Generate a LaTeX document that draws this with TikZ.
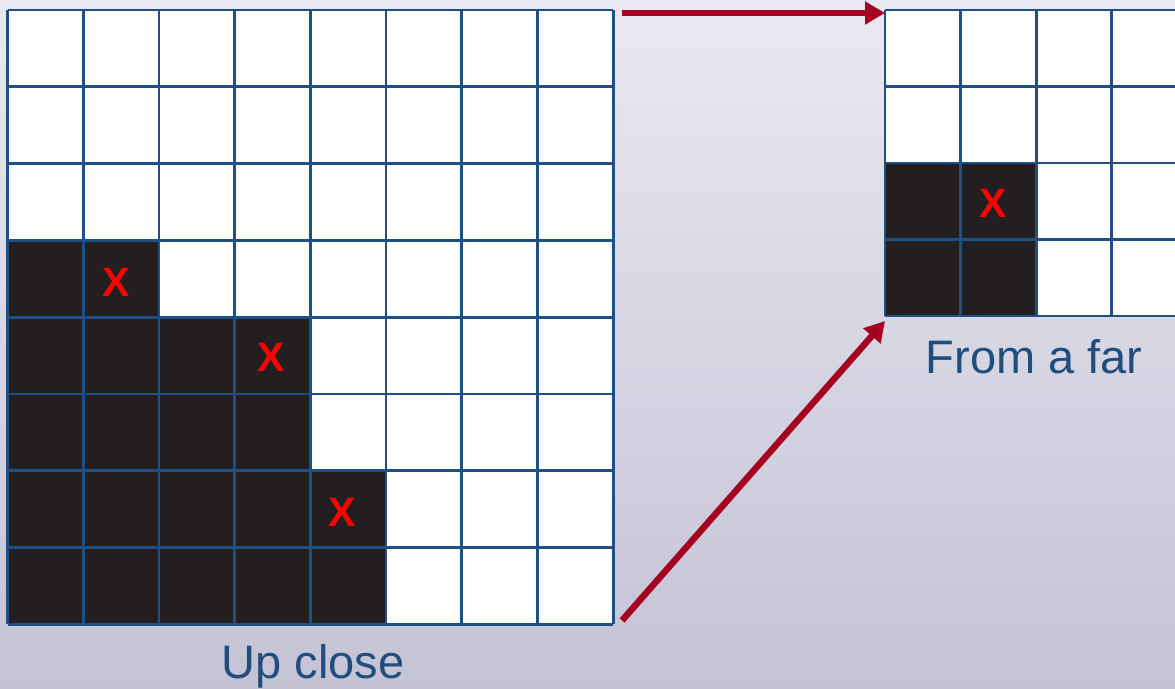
\documentclass[tikz,border=0pt]{standalone}
\usepackage{fontspec}
\setmainfont{Liberation Sans}
\usetikzlibrary{arrows.meta}
\definecolor{gridblue}{RGB}{30,80,134}
\definecolor{cellblack}{RGB}{35,31,32}
\definecolor{arrowred}{RGB}{165,0,33}
\definecolor{xred}{RGB}{255,0,0}
\definecolor{bgtop}{RGB}{233,233,241}
\definecolor{bgmid}{RGB}{212,211,225}
\definecolor{bgbot}{RGB}{196,195,213}
\definecolor{captionblue}{RGB}{31,78,125}
\tikzset{
  gridline/.style={draw=gridblue, line width=2.8pt},
  gridnode/.style={inner sep=0pt, outer sep=0pt, draw=none},
  xmark/.style={text=xred, font=\fontsize{41}{41}\selectfont\bfseries, inner sep=0pt},
  caption/.style={text=captionblue, font=\fontsize{47}{47}\selectfont, inner sep=0pt, anchor=base},
  redarrow/.style={draw=arrowred, line width=6.5pt, -{Triangle[length=20pt,width=22pt]}}
}
\begin{document}
\begin{tikzpicture}[x=1pt,y=-1pt]
\shade[top color=bgtop, middle color=bgmid, bottom color=bgbot] (0,0) rectangle (1175,688);
\useasboundingbox (0,0) rectangle (1175,688);

% big grid (up close)
\node[gridnode, minimum width=605.6pt, minimum height=614.4pt, anchor=north west] (big) at (7.5,10) {};
\begin{scope}[shift={(7.5,10)}, x=75.7pt, y=-76.8pt]
  \fill[white] (0,0) rectangle (8,8);
  \fill[cellblack] (0,3) -- (2,3) -- (2,4) -- (4,4) -- (4,6) -- (5,6) -- (5,8) -- (0,8) -- cycle;
  \foreach \i in {0,...,8} {
    \draw[gridline] (\i,0) -- (\i,8);
    \draw[gridline] (0,\i) -- (8,\i);
  }
\end{scope}
\node[xmark] (x1) at (116,282) {X};
\node[xmark] (x2) at (271,357) {X};
\node[xmark] (x3) at (342,512) {X};

% small grid (from a far)
\node[gridnode, minimum width=302.4pt, minimum height=306pt, anchor=north west] (small) at (885,10) {};
\begin{scope}[shift={(885,10)}, x=75.6pt, y=-76.5pt]
  \fill[white] (0,0) rectangle (4,4);
  \fill[cellblack] (0,2) rectangle (2,4);
  \foreach \i in {0,...,4} {
    \draw[gridline] (\i,0) -- (\i,4);
    \draw[gridline] (0,\i) -- (4,\i);
  }
\end{scope}
\node[xmark] (x4) at (993,203) {X};

% captions
\node[caption] (cap1) at (313,678) {Up close};
\node[caption] (cap2) at (1034,373) {From a far};

% arrows
\coordinate (a1s) at ([shift={(9,3)}]big.north east);
\coordinate (a1e) at ([shift={(0,3)}]small.north west);
\coordinate (a2s) at ([shift={(9,-4)}]big.south east);
\coordinate (a2e) at ([shift={(0,5)}]small.south west);
\draw[redarrow] (a1s) -- (a1e);
\draw[redarrow] (a2s) -- (a2e);
\end{tikzpicture}
\end{document}
